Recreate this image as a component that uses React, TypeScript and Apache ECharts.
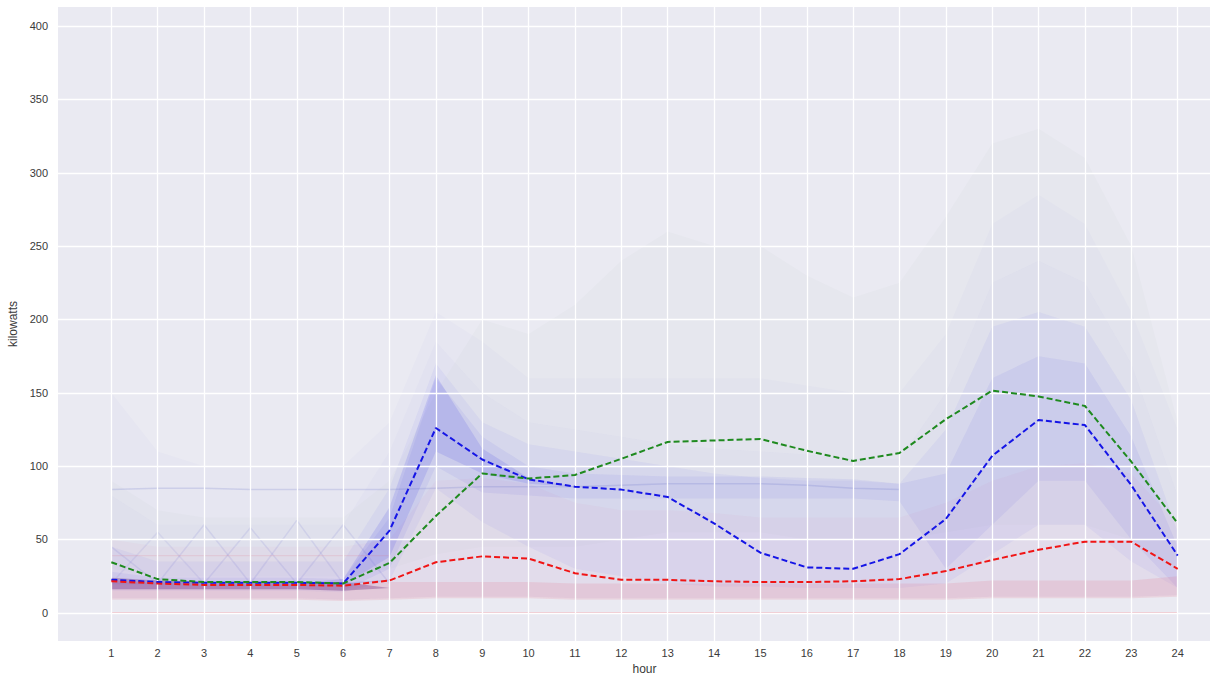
import React, { useEffect, useRef } from "react";
import * as echarts from "echarts";

// ---- data ----
const hours = [1, 2, 3, 4, 5, 6, 7, 8, 9, 10, 11, 12, 13, 14, 15, 16, 17, 18, 19, 20, 21, 22, 23, 24];
const yTicks = [0, 50, 100, 150, 200, 250, 300, 350, 400];

const greenMean = [34.5, 23, 21, 21, 21, 20, 34, 66, 95, 91.5, 94, 105, 116.5, 117.5, 118.5, 110.5, 103.5, 109, 132, 151.5, 147.5, 141, 103, 61];
const blueMean = [22.5, 21, 20.5, 20.5, 20.5, 20, 56, 126, 104.5, 91, 86, 84, 79, 61, 41, 31, 30, 40, 64, 107, 131.5, 128, 87, 39];
const redMean = [21.5, 20, 19, 19, 19, 18.5, 22, 34.5, 38.5, 37, 27, 22.5, 22.5, 21.5, 21, 21, 21.5, 23, 28.5, 36, 43, 48.5, 48.5, 30];

const zeroLine = [0, 0, 0, 0, 0, 0, 0, 0, 0, 0, 0, 0, 0, 0, 0, 0, 0, 0, 0, 0, 0, 0, 0, 0];

// faint envelopes of the many individual daily profiles (low / high per hour)
const hazeLow = [10, 10, 10, 10, 10, 9, 10, 11, 11, 11, 10, 10, 10, 10, 10, 10, 10, 10, 10, 11, 11, 11, 11, 12];
const greenHazeLow = [30, 25, 25, 25, 25, 25, 30, 40, 45, 45, 45, 50, 55, 55, 55, 50, 50, 50, 55, 60, 60, 60, 50, 30];
const greenHazeHigh = [90, 70, 65, 65, 65, 65, 90, 150, 200, 190, 210, 240, 260, 250, 250, 230, 215, 225, 270, 320, 330, 310, 250, 130];
const blueHazeHigh = [150, 110, 100, 100, 100, 100, 130, 205, 185, 160, 160, 160, 160, 160, 160, 155, 150, 150, 190, 265, 285, 265, 205, 125];
const blueMidHigh = [80, 60, 60, 60, 60, 60, 110, 185, 150, 130, 125, 120, 115, 112, 110, 108, 105, 105, 150, 225, 240, 225, 170, 80];
const redHazeHigh = [50, 45, 45, 45, 45, 45, 50, 90, 92, 88, 75, 70, 70, 68, 65, 65, 65, 65, 75, 90, 100, 102, 95, 60];
const blueCoreLow = [15, 15, 15, 15, 15, 14, 22, 85, 62, 45, 30, 25, 20, 18, 18, 17, 17, 17, 20, 40, 60, 60, 35, 17];
const blueCoreHigh = [45, 35, 35, 35, 35, 35, 85, 170, 130, 115, 110, 105, 100, 95, 92, 90, 90, 88, 125, 195, 205, 195, 145, 55];
const blueDenseLow = [16, 16, 16, 16, 16, 15, 30, 100, 82, 80, 78, 78, 78, 78, 78, 78, 78, 76, 30, 60, 90, 90, 50, 17];
const blueDenseHigh = [28, 24, 24, 24, 24, 23, 65, 160, 120, 100, 95, 94, 93, 93, 93, 92, 91, 88, 95, 160, 175, 170, 120, 45];
const blueRampLow = [20, 20, 20, 20, 20, 19, 38, 110, 95, 88, 86, 86, 86, 86, 86, 86, 86, 86, 86, 86, 86, 86, 86, 86];
const blueRampHigh = [20, 20, 20, 20, 20, 23, 72, 162, 112, 92, 86, 86, 86, 86, 86, 86, 86, 86, 86, 86, 86, 86, 86, 86];
const redCoreLow = [9, 9, 9, 9, 9, 8, 9, 10, 10, 10, 9, 9, 9, 9, 9, 9, 9, 9, 9, 10, 10, 10, 10, 11];
const redCoreHigh = [22, 20, 19, 19, 19, 19, 21, 21, 21, 21, 20, 20, 20, 20, 20, 20, 20, 20, 20, 22, 22, 22, 22, 25];
const darkLow = [16, 16, 16, 16, 16, 15, 17, 17, 17, 17, 17, 17, 17, 17, 17, 17, 17, 17, 17, 17, 17, 17, 17, 17];
const darkHigh = [24, 22, 21, 21, 21, 21, 17, 17, 17, 17, 17, 17, 17, 17, 17, 17, 17, 17, 17, 17, 17, 17, 17, 17];

// a few individual profiles that stand out in the picture
const flatBlueDay = [84, 85, 85, 84, 84, 84, 84, 85, 86, 86, 86, 87, 88, 88, 88, 87, 85, 84, null, null, null, null, null, null];
const zigDayA = [20, 20, 60, 20, 63, 20, 22, null, null, null, null, null, null, null, null, null, null, null, null, null, null, null, null, null];
const zigDayB = [45, 20, 20, 58, 20, 60, 20, null, null, null, null, null, null, null, null, null, null, null, null, null, null, null, null, null];
const zigDayC = [20, 55, 20, 20, 20, 20, 22, null, null, null, null, null, null, null, null, null, null, null, null, null, null, null, null, null];
const flatRedDay = [39, 39, 39, 39, 39, 39, 39, null, null, null, null, null, null, null, null, null, null, null, null, null, null, null, null, null];

const FONT = "'Liberation Sans', Arial, sans-serif";

function pairs(vals: (number | null)[]) {
  return hours.map((h, i) => [h, vals[i]]);
}

function band(name: string, low: number[], high: number[], color: string) {
  return {
    name,
    type: "custom",
    silent: true,
    z: 1,
    data: [[hours[0], low[0]]],
    renderItem: (_params: any, api: any) => {
      const top = hours.map((h, i) => api.coord([h, high[i]]));
      const bottom = hours.map((h, i) => api.coord([h, low[i]])).reverse();
      return {
        type: "polygon",
        shape: { points: [...top, ...bottom] },
        style: { fill: color, stroke: "none" },
      };
    },
  };
}

function faint(name: string, vals: (number | null)[], color: string, width = 1) {
  return {
    name,
    type: "line",
    data: pairs(vals),
    showSymbol: false,
    silent: true,
    connectNulls: false,
    lineStyle: { color, width },
    z: 2,
  };
}

function dashed(name: string, vals: number[], color: string) {
  return {
    name,
    type: "line",
    data: pairs(vals),
    showSymbol: false,
    silent: true,
    lineStyle: { color, width: 2, type: [6, 3] },
    z: 5,
  };
}

export default function App() {
  const ref = useRef<HTMLDivElement>(null);

  useEffect(() => {
    if (!ref.current) return;
    const chart = echarts.init(ref.current, undefined, { renderer: "svg" });
    const labelStyle = { color: "#3a3a3a", fontSize: 11, fontFamily: FONT };
    chart.setOption({
      animation: false,
      backgroundColor: "#ffffff",
      grid: {
        left: 58,
        top: 7,
        width: 1173,
        height: 634,
        show: true,
        backgroundColor: "#EAEAF2",
        borderWidth: 0,
        containLabel: false,
        outerBoundsMode: "none",
      },
      xAxis: {
        type: "value",
        min: -0.15,
        max: 25.15,
        axisLine: { show: false },
        axisTick: { show: false },
        splitLine: { show: false },
        axisLabel: { ...labelStyle, customValues: hours, margin: 6 },
        name: "hour",
        nameLocation: "middle",
        nameGap: 16,
        nameTextStyle: { color: "#3a3a3a", fontSize: 12, fontFamily: FONT, lineHeight: 12 },
      },
      yAxis: {
        type: "value",
        min: -19.2,
        max: 413,
        axisLine: { show: false },
        axisTick: { show: false },
        splitLine: { show: false },
        axisLabel: { ...labelStyle, customValues: yTicks, margin: 10 },
        name: "kilowatts",
        nameLocation: "middle",
        nameGap: 31,
        nameTextStyle: { color: "#3a3a3a", fontSize: 12, fontFamily: FONT },
      },
      series: [
        {
          name: "grid",
          type: "line",
          data: [],
          silent: true,
          z: 0,
          markLine: {
            silent: true,
            symbol: ["none", "none"],
            label: { show: false },
            lineStyle: { color: "#ffffff", width: 1.3, type: "solid" },
            data: [
              ...hours.map((h) => ({ xAxis: h })),
              ...yTicks.map((v) => ({ yAxis: v })),
            ],
          },
        },
        band("greenHaze", greenHazeLow, greenHazeHigh, "rgba(120,150,120,0.03)"),
        band("blueHaze", hazeLow, blueHazeHigh, "rgba(130,130,220,0.03)"),
        band("blueMid", hazeLow, blueMidHigh, "rgba(130,130,225,0.035)"),
        band("redHaze", hazeLow, redHazeHigh, "rgba(230,120,150,0.05)"),
        band("blueCore", blueCoreLow, blueCoreHigh, "rgba(100,100,235,0.07)"),
        band("blueDense", blueDenseLow, blueDenseHigh, "rgba(80,80,235,0.08)"),
        band("blueRamp", blueRampLow, blueRampHigh, "rgba(60,60,235,0.14)"),
        band("redCore", redCoreLow, redCoreHigh, "rgba(230,100,125,0.16)"),
        band("dark", darkLow, darkHigh, "rgba(90,20,110,0.3)"),
        faint("zero", zeroLine, "rgba(240,120,130,0.55)", 1),
        faint("flatBlue", flatBlueDay, "rgba(100,110,200,0.2)", 1.5),
        faint("zigA", zigDayA, "rgba(100,100,210,0.13)", 1.5),
        faint("zigB", zigDayB, "rgba(100,100,210,0.13)", 1.5),
        faint("zigC", zigDayC, "rgba(100,100,210,0.1)", 1.5),
        faint("flatRed", flatRedDay, "rgba(230,110,130,0.15)", 1.2),
        dashed("blue", blueMean, "#1515e6"),
        dashed("red", redMean, "#f01515"),
        dashed("green", greenMean, "#1f8a1f"),
      ],
    });
    return () => chart.dispose();
  }, []);

  return (
    <div
      ref={ref}
      style={{ position: "fixed", left: 0, top: 0, width: 1210, height: 673 }}
    />
  );
}
